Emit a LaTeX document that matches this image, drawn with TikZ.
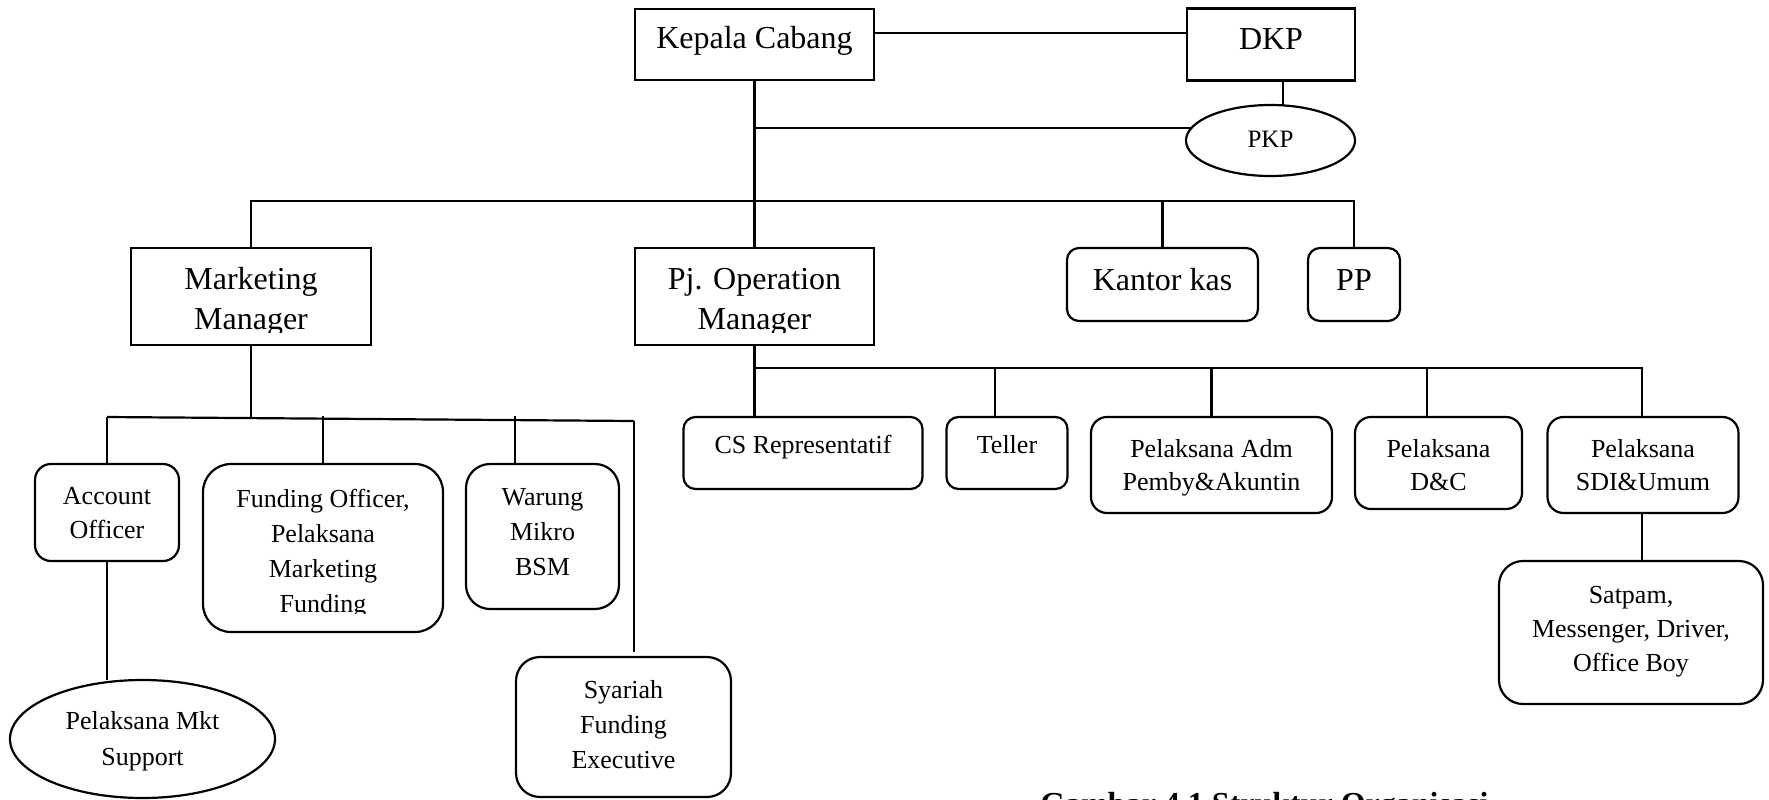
\documentclass[tikz,border=0pt]{standalone}
\usepackage{fontspec}
\setmainfont{Liberation Serif}
\usetikzlibrary{shapes.geometric,calc}
\begin{document}
\begin{tikzpicture}[x=0.5pt,y=-0.5pt,
  lw/.style={line width=1.1pt},
  box/.style={draw,lw,inner sep=0pt,outer sep=0pt},
  rbox/.style={box,rounded corners=#1},
  oval/.style={draw,lw,ellipse,inner sep=0pt,outer sep=0pt},
  sz/.style 2 args={minimum width=#1*0.5pt,minimum height=#2*0.5pt},
  big/.style={font=\fontsize{16}{20}\selectfont,align=center,inner sep=0pt,anchor=base},
  small/.style={font=\fontsize{13}{17}\selectfont,align=center,inner sep=0pt,anchor=base},
  conn/.style={lw},
]
\clip (0,0) rectangle (1769,799);
\useasboundingbox (0,0) rectangle (1769,799);

% ---- boxes ----
\node[box,sz={239}{71}] (kc) at (754.5,44.5) {};
\node[box,sz={168}{72}] (dkp) at (1271,44.5) {};
\node[oval,sz={169}{71}] (pkp) at (1270.5,140.5) {};
\node[box,sz={240}{97}] (mm) at (251,296.5) {};
\node[box,sz={239}{97}] (pjop) at (754.5,296.5) {};
\node[rbox=6pt,sz={191}{73}] (kas) at (1162.5,284.5) {};
\node[rbox=6pt,sz={92}{73}] (pp) at (1354,284.5) {};

\node[rbox=8pt,sz={144}{97}] (ao) at (107,512.5) {};
\node[rbox=14pt,sz={240}{168}] (fo) at (323,548) {};
\node[rbox=12pt,sz={153}{145}] (wm) at (542.5,536.5) {};
\node[rbox=12pt,sz={215}{140}] (sfe) at (623.5,727) {};
\node[oval,sz={265}{118}] (mkt) at (142.5,739) {};

\node[rbox=6pt,sz={239}{72}] (cs) at (803,453) {};
\node[rbox=6pt,sz={121}{72}] (tel) at (1007,453) {};
\node[rbox=8pt,sz={241}{96}] (adm) at (1211.5,465) {};
\node[rbox=8pt,sz={167}{92}] (dc) at (1438.5,463) {};
\node[rbox=8pt,sz={191}{96}] (sdi) at (1643,465) {};
\node[rbox=12pt,sz={264}{143}] (sat) at (1631,632.5) {};

% ---- texts (anchor base = baseline of the last line) ----
\node[big] (kct) at (754.5,48) {Kepala Cabang};
\node[big] (dkpt) at (1271,49) {DKP};
\node[big,font=\fontsize{12.5}{15}\selectfont] (pkpt) at (1270.5,147) {PKP};
\begin{scope}
  \clip (100,240) rectangle (900,332);
  \node[big] (mmt) at (251,329) {Marketing\\Manager};
  \node[big] (pjopt) at (754.5,329) {Pj. Operation\\Manager};
\end{scope}
\node[big] (kast) at (1162.5,290) {Kantor kas};
\node[big] (ppt) at (1354,290) {PP};

\node[small] (aot) at (107,538) {Account\\Officer};
\begin{scope}
  \clip (200,460) rectangle (450,613);
  \node[small,font=\fontsize{13}{17.5}\selectfont] (fot) at (323,612) {Funding Officer,\\Pelaksana\\Marketing\\Funding};
\end{scope}
\node[small,font=\fontsize{13}{17.5}\selectfont] (wmt) at (542.5,575) {Warung\\Mikro\\BSM};
\node[small,font=\fontsize{13}{17.5}\selectfont] (sfet) at (623.5,768) {Syariah\\Funding\\Executive};
\node[small,font=\fontsize{13}{18}\selectfont] (mktt) at (142.5,765) {Pelaksana Mkt\\Support};

\node[small] (cst) at (803,453) {CS Representatif};
\node[small] (telt) at (1007,453) {Teller};
\node[small,font=\fontsize{13}{16.5}\selectfont] (admt) at (1211.5,490) {Pelaksana Adm\\Pemby\&Akuntin};
\node[small,font=\fontsize{13}{16.5}\selectfont] (dct) at (1438.5,490) {Pelaksana\\D\&C};
\node[small,font=\fontsize{13}{16.5}\selectfont] (sdit) at (1643,490) {Pelaksana\\SDI\&Umum};
\node[small] (satt) at (1631,671) {Satpam,\\Messenger, Driver,\\Office Boy};

\node[font=\fontsize{16}{20}\selectfont\bfseries,anchor=base west,inner sep=0pt] (cap) at (1040,814) {Gambar 4.1 Struktur Organisasi};

% ---- connectors ----
\draw[conn] ([yshift=5.75pt]kc.east) -- ([yshift=5.75pt]dkp.west);
\draw[conn] ([xshift=6pt]dkp.south) -- ([xshift=6pt]dkp.south |- pkp.north);
\draw[conn] (kc.south) -- (pjop.north);
\draw[conn] (pkp.171 -| kc.south) -- (pkp.171);
\coordinate (bus) at (754.5,201);
\draw[conn] (mm.north) |- (bus) -| (pp.north);
\draw[conn] (kas.north) -- (kas.north |- bus);

\coordinate (mbL) at (107,417);
\coordinate (mbR) at (634,421);
\draw[conn] (mm.south) -- ++(0,73);
\draw[conn] (mbL) -- (mbR);
\draw[conn] (mbL) -- (ao.north);
\draw[conn] (fo.north) -- ++(0,-48);
\draw[conn] ([xshift=-13.75pt]wm.north) -- ++(0,-48);
\draw[conn] (mbR) -- ([yshift=2.5pt]mbR |- sfe.north);
\draw[conn] (ao.south) -- (ao.south |- mkt.north);

\coordinate (obus) at (754.5,368);
\draw[conn] (pjop.south) -- (pjop.south |- cs.north);
\draw[conn] (obus) -| ([xshift=-0.5pt]sdi.north);
\draw[conn] ([xshift=-6pt]tel.north) -- ([xshift=-6pt]tel.north |- obus);
\draw[conn] (adm.north) -- (adm.north |- obus);
\draw[conn] ([xshift=-5.75pt]dc.north) -- ([xshift=-5.75pt]dc.north |- obus);
\draw[conn] ([xshift=-0.5pt]sdi.south) -- ([xshift=-0.5pt]sdi.south |- sat.north);
\end{tikzpicture}
\end{document}
